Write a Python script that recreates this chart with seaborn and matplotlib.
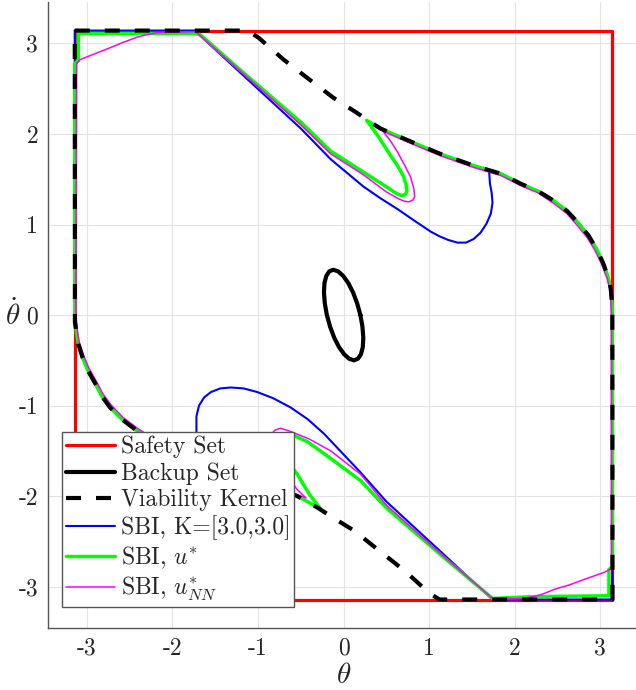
import matplotlib
matplotlib.use("Agg")
import matplotlib.pyplot as plt
import seaborn as sns

# ---------------- data ----------------
safety_x = [-3.1416, 3.1416, 3.1416, -3.1416, -3.1416]
safety_y = [-3.1416, -3.1416, 3.1416, 3.1416, -3.1416]

backup_x = [0.196, 0.158, 0.110, 0.054, -0.006, -0.065, -0.12, -0.167, -0.202, -0.224, -0.230, -0.220,
            -0.196, -0.158, -0.110, -0.054, 0.006, 0.065, 0.12, 0.167, 0.202, 0.224, 0.230, 0.220, 0.196]
backup_y = [0.0, 0.129, 0.25, 0.354, 0.433, 0.483, 0.5, 0.483, 0.433, 0.354, 0.25, 0.129,
            0.0, -0.129, -0.25, -0.354, -0.433, -0.483, -0.5, -0.483, -0.433, -0.354, -0.25, -0.129, 0.0]

kernel_x = [-3.1416, -1.12, -0.99, -0.70, -0.44, -0.12, 0.16, 0.30, 0.43, 0.75, 1.13, 1.52, 1.84, 2.07,
            2.27, 2.46, 2.61, 2.74, 2.86, 2.95, 3.03, 3.09, 3.12, 3.13, 3.14, 3.1416,
            1.12, 1.00, 0.72, 0.44, 0.12, -0.12, -0.30, -0.54, -0.75, -1.13, -1.52, -1.84, -2.07,
            -2.25, -2.41, -2.58, -2.73, -2.83, -2.90, -2.99, -3.05, -3.10, -3.12, -3.14, -3.1416]
kernel_y = [3.1416, 3.1416, 3.06, 2.82, 2.63, 2.40, 2.23, 2.14, 2.06, 1.93, 1.78, 1.65, 1.56, 1.45,
            1.37, 1.26, 1.15, 1.02, 0.88, 0.74, 0.58, 0.42, 0.30, 0.20, 0.08, -3.1416,
            -3.1416, -3.07, -2.83, -2.62, -2.38, -2.24, -2.13, -2.00, -1.92, -1.78, -1.65, -1.56, -1.45,
            -1.37, -1.28, -1.16, -1.02, -0.89, -0.76, -0.61, -0.47, -0.32, -0.20, -0.08, 3.1416]

sbi_k_x = [-3.1416, -1.74, -1.20, -0.50, -0.15, 0.23, 0.43, 0.63, 0.83, 1.02, 1.12, 1.22, 1.33, 1.43, 1.52,
           1.60, 1.67, 1.72, 1.74, 1.73, 1.71, 1.70, 1.84, 2.07, 2.27, 2.46, 2.61, 2.74, 2.86, 2.95, 3.03,
           3.09, 3.12, 3.13, 3.14, 3.1416, 3.1416, 1.74, 1.20, 0.50, 0.20, -0.23, -0.42, -0.62, -0.82, -1.01,
           -1.17, -1.32, -1.44, -1.55, -1.63, -1.69, -1.72, -1.72, -1.71, -1.70, -1.84, -2.07, -2.25, -2.41,
           -2.58, -2.73, -2.83, -2.90, -2.99, -3.05, -3.10, -3.12, -3.14, -3.1416]
sbi_k_y = [3.1416, 3.1416, 2.67, 2.06, 1.72, 1.42, 1.29, 1.17, 1.04, 0.92, 0.87, 0.83, 0.80, 0.80, 0.84,
           0.91, 1.01, 1.12, 1.24, 1.35, 1.45, 1.59, 1.56, 1.45, 1.37, 1.26, 1.15, 1.02, 0.88, 0.74, 0.58,
           0.42, 0.30, 0.20, 0.08, -3.1416, -3.1416, -3.1416, -2.67, -2.06, -1.74, -1.31, -1.15, -1.02, -0.92, -0.85,
           -0.81, -0.80, -0.81, -0.85, -0.91, -1.00, -1.12, -1.30, -1.45, -1.59, -1.56, -1.45, -1.37, -1.28,
           -1.16, -1.02, -0.89, -0.76, -0.61, -0.47, -0.32, -0.20, -0.08, 3.1416]

sbi_u_x = [-3.10, -3.10, -1.75, -1.68, -1.20, -0.50, -0.15, 0.23, 0.51, 0.62, 0.68, 0.72, 0.74, 0.73, 0.70,
           0.63, 0.55, 0.40, 0.27, 0.43, 0.75, 1.13, 1.52, 1.84, 2.07, 2.27, 2.46, 2.61, 2.74, 2.86, 2.95,
           3.03, 3.09, 3.12, 3.13, 3.14, 3.1416, 3.10, 3.10, 2.20, 1.74, 1.20, 0.50, 0.20, -0.20, -0.42,
           -0.58, -0.66, -0.71, -0.74, -0.73, -0.70, -0.63, -0.54, -0.40, -0.27, -0.54, -0.75, -1.13, -1.52,
           -1.84, -2.07, -2.25, -2.41, -2.58, -2.73, -2.83, -2.90, -2.99, -3.05, -3.10, -3.12, -3.14,
           -3.1416, -3.10]
sbi_u_y = [2.81, 3.11, 3.11, 3.10, 2.70, 2.13, 1.81, 1.58, 1.41, 1.34, 1.32, 1.33, 1.37, 1.44, 1.53,
           1.65, 1.76, 1.98, 2.15, 2.06, 1.93, 1.78, 1.65, 1.56, 1.45, 1.37, 1.26, 1.15, 1.02, 0.88, 0.74,
           0.58, 0.42, 0.30, 0.20, 0.08, -2.78, -2.81, -3.10, -3.11, -3.13, -2.70, -2.13, -1.83, -1.55, -1.40,
           -1.33, -1.31, -1.32, -1.37, -1.44, -1.53, -1.65, -1.76, -1.98, -2.14, -2.00, -1.92, -1.78, -1.65,
           -1.56, -1.45, -1.37, -1.28, -1.16, -1.02, -0.89, -0.76, -0.61, -0.47, -0.32, -0.20, -0.08,
           2.78, 2.81]

sbi_nn_x = [-3.12, -3.08, -2.95, -2.76, -2.58, -2.41, -2.28, -2.18, -1.73, -1.20, -0.50, -0.15, 0.23, 0.50,
            0.63, 0.70, 0.76, 0.81, 0.83, 0.82, 0.78, 0.71, 0.63, 0.55, 0.46, 0.75, 1.13, 1.52, 1.84, 2.07,
            2.27, 2.46, 2.61, 2.73, 2.85, 2.94, 3.02, 3.08, 3.11, 3.12, 3.13, 3.13, 3.05, 2.96, 2.81, 2.64,
            2.46, 2.33, 2.22, 2.10, 1.74, 1.20, 0.50, 0.20, -0.15, -0.40, -0.58, -0.67, -0.74, -0.80, -0.83,
            -0.82, -0.78, -0.71, -0.63, -0.55, -0.44, -0.75, -1.13, -1.52, -1.84, -2.07, -2.25, -2.41, -2.58,
            -2.72, -2.82, -2.89, -2.98, -3.04, -3.09, -3.11, -3.13, -3.12]
sbi_nn_y = [2.78, 2.82, 2.87, 2.94, 3.01, 3.07, 3.10, 3.12, 3.13, 2.69, 2.10, 1.78, 1.55, 1.36,
            1.29, 1.26, 1.25, 1.27, 1.31, 1.40, 1.53, 1.66, 1.80, 1.92, 2.03, 1.91, 1.76, 1.63, 1.54, 1.43,
            1.35, 1.23, 1.12, 0.99, 0.85, 0.71, 0.55, 0.40, 0.28, 0.18, 0.00, -2.80, -2.84, -2.87, -2.92, -2.98,
            -3.03, -3.08, -3.11, -3.13, -3.13, -2.69, -2.10, -1.76, -1.50, -1.37, -1.30, -1.27, -1.25, -1.27, -1.30,
            -1.40, -1.53, -1.66, -1.80, -1.92, -2.02, -1.91, -1.76, -1.63, -1.54, -1.43, -1.35, -1.25, -1.13,
            -0.99, -0.86, -0.73, -0.58, -0.44, -0.30, -0.18, 0.00, 2.78]

tick_values = [-3, -2, -1, 0, 1, 2, 3]
tick_labels = ["-3", "-2", "-1", "0", "1", "2", "3"]
labels = ["Safety Set", "Backup Set", "Viability Kernel", "SBI, K=[3.0,3.0]",
          r"SBI, $u^{*}$", r"SBI, $u^{*}_{NN}$"]

# ---------------- style ----------------
sns.set_theme(style="white")
plt.rcParams["font.family"] = ["cmr10", "DejaVu Serif"]
plt.rcParams["mathtext.fontset"] = "cm"
plt.rcParams["axes.unicode_minus"] = False
plt.rcParams["axes.formatter.use_mathtext"] = True

fig = plt.figure(figsize=(6.36, 6.9), dpi=100)
ax = fig.add_axes([0.0753, 0.0899, 0.930, 0.907])

common = dict(sort=False, estimator=None, ax=ax)
sns.lineplot(x=safety_x, y=safety_y, color="#ff0000", lw=2.3, label=labels[0], zorder=2, **common)
sns.lineplot(x=backup_x, y=backup_y, color="black", lw=3.0, label=labels[1], zorder=3, **common)
sns.lineplot(x=kernel_x, y=kernel_y, color="black", lw=3.0, linestyle=(0, (3.6, 3.6)),
             label=labels[2], zorder=6, **common)
sns.lineplot(x=sbi_k_x, y=sbi_k_y, color="#0000ff", lw=1.5, label=labels[3], zorder=3, **common)
sns.lineplot(x=sbi_u_x, y=sbi_u_y, color="#00ff00", lw=2.5, label=labels[4], zorder=4, **common)
sns.lineplot(x=sbi_nn_x, y=sbi_nn_y, color="#ff00ff", lw=1.1, label=labels[5], zorder=5, **common)

lim = 1.1 * 3.14159265
ax.set_xlim(-lim, lim)
ax.set_ylim(-lim, lim)
ax.set_xticks(tick_values, tick_labels)
ax.set_yticks(tick_values, tick_labels)
ax.grid(True, color="#e3e3e3", lw=0.8)
ax.set_axisbelow(True)
for s in ["top", "right"]:
    ax.spines[s].set_visible(False)
for s in ["left", "bottom"]:
    ax.spines[s].set_color("#555555")
    ax.spines[s].set_linewidth(1.0)
ax.tick_params(direction="in", length=4, width=0.8, color="#555555", labelsize=17,
               labelcolor="#262626", pad=7)

ax.set_xlabel(r"$\theta$", fontsize=21, color="#262626", labelpad=2)
ax.set_ylabel(r"$\dot{\theta}$", fontsize=21, color="#262626", rotation=0, labelpad=4, va="center")

leg = ax.legend(loc="upper left", bbox_to_anchor=(0.0238, 0.313), borderaxespad=0,
                fontsize=17, frameon=True, fancybox=False, framealpha=1,
                edgecolor="#555555", handlelength=2.1, handletextpad=0.25,
                labelspacing=0.18, borderpad=0.15)
leg.get_frame().set_linewidth(1.0)
leg.set_zorder(20)
for t in leg.get_texts():
    t.set_color("#262626")

fig.savefig("out.png", dpi=100)
